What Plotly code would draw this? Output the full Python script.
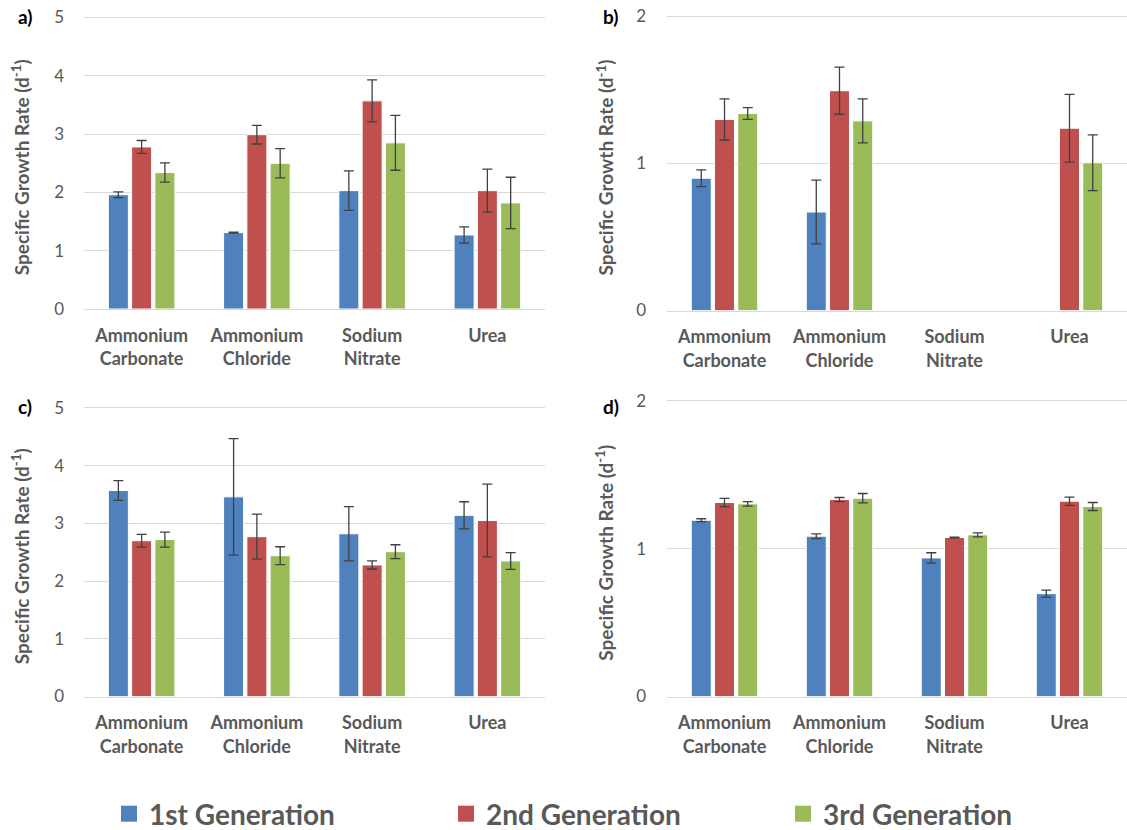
import plotly.graph_objects as go

W, H = 1127, 830

categories = ["Ammonium<br>Carbonate", "Ammonium<br>Chloride", "Sodium<br>Nitrate", "Urea"]
series_names = ["1st Generation", "2nd Generation", "3rd Generation"]

# Panel a
a_gen1 = [1.96, 1.31, 2.03, 1.27]
a_gen1_err = [0.05, 0.01, 0.34, 0.14]
a_gen2 = [2.78, 2.99, 3.57, 2.03]
a_gen2_err = [0.11, 0.16, 0.36, 0.37]
a_gen3 = [2.34, 2.50, 2.85, 1.82]
a_gen3_err = [0.165, 0.25, 0.47, 0.44]

# Panel b
b_gen1 = [0.90, 0.67, None, None]
b_gen1_err = [0.057, 0.217, None, None]
b_gen2 = [1.30, 1.495, None, 1.24]
b_gen2_err = [0.14, 0.16, None, 0.23]
b_gen3 = [1.34, 1.29, None, 1.005]
b_gen3_err = [0.04, 0.15, None, 0.19]

# Panel c
c_gen1 = [3.57, 3.46, 2.82, 3.14]
c_gen1_err = [0.17, 1.01, 0.47, 0.235]
c_gen2 = [2.70, 2.77, 2.28, 3.05]
c_gen2_err = [0.11, 0.39, 0.07, 0.63]
c_gen3 = [2.72, 2.44, 2.51, 2.35]
c_gen3_err = [0.13, 0.155, 0.12, 0.145]

# Panel d
d_gen1 = [1.193, 1.085, 0.938, 0.696]
d_gen1_err = [0.010, 0.016, 0.035, 0.024]
d_gen2 = [1.313, 1.333, 1.076, 1.322]
d_gen2_err = [0.028, 0.014, 0.003, 0.028]
d_gen3 = [1.304, 1.342, 1.094, 1.286]
d_gen3_err = [0.015, 0.032, 0.014, 0.027]

y_ticks_ac = [0, 1, 2, 3, 4, 5]
y_ticks_bd = [0, 1, 2]
panel_labels = ["a)", "b)", "c)", "d)"]
y_title = "Specific Growth Rate (d<sup>-1</sup>)"

colors = ["#4F81BD", "#C0504D", "#9BBB59"]
GRID = "#D9D9D9"
TXT = "#595959"
FONT = "Lato"

panels = [
    dict(data=[(a_gen1, a_gen1_err), (a_gen2, a_gen2_err), (a_gen3, a_gen3_err)],
         ticks=y_ticks_ac, px=(84, 545), py=(17.5, 309), label_xy=(16, 17), title_x=20),
    dict(data=[(b_gen1, b_gen1_err), (b_gen2, b_gen2_err), (b_gen3, b_gen3_err)],
         ticks=y_ticks_bd, px=(667, 1127), py=(16.5, 310.5), label_xy=(601, 17), title_x=605),
    dict(data=[(c_gen1, c_gen1_err), (c_gen2, c_gen2_err), (c_gen3, c_gen3_err)],
         ticks=y_ticks_ac, px=(84, 545), py=(408, 696.5), label_xy=(16, 407), title_x=20),
    dict(data=[(d_gen1, d_gen1_err), (d_gen2, d_gen2_err), (d_gen3, d_gen3_err)],
         ticks=y_ticks_bd, px=(667, 1127), py=(401, 696.5), label_xy=(601, 407), title_x=605),
]

fig = go.Figure()
layout = dict(
    width=W, height=H,
    margin=dict(l=0, r=0, t=0, b=0, autoexpand=False),
    paper_bgcolor="white", plot_bgcolor="white",
    barmode="group", bargap=0.394, bargroupgap=0.14,
    font=dict(family=FONT, color=TXT),
    showlegend=True,
)
annotations = []

for i, p in enumerate(panels):
    n = i + 1
    xa = "x" if n == 1 else f"x{n}"
    ya = "y" if n == 1 else f"y{n}"
    for k, (vals, errs) in enumerate(p["data"]):
        fig.add_trace(go.Bar(
            x=categories, y=vals, xaxis=xa, yaxis=ya,
            name=series_names[k], showlegend=False,
            marker=dict(color=colors[k], line=dict(color="white", width=1)),
            error_y=dict(type="data", array=errs, visible=True,
                         color="#404040", thickness=1.3, width=5),
        ))
    x0, x1 = p["px"]
    y0, y1 = p["py"]
    top = p["ticks"][-1]
    ext = top * 0.004
    layout[f"xaxis{'' if n == 1 else n}"] = dict(
        domain=[x0 / W, x1 / W], anchor=ya, type="category",
        range=[-0.5, 3.5], showgrid=False, showline=True, linecolor=GRID,
        linewidth=1, ticks="", tickfont=dict(family=FONT, size=18, color=TXT,
                                               weight="bold"),
        ticklabelstandoff=10, zeroline=False,
    )
    layout[f"yaxis{'' if n == 1 else n}"] = dict(
        domain=[1 - y1 / H, 1 - (y0 - (y1 - y0) * ext / top) / H], anchor=xa,
        range=[0, top + ext], tickvals=p["ticks"],
        showgrid=True, gridcolor=GRID, gridwidth=1, zeroline=False,
        showline=False, ticks="",
        tickfont=dict(family=FONT, size=17, color=TXT),
        ticklabelstandoff=19 if n in (1, 3) else 20,
    )
    lx, ly = p["label_xy"]
    annotations.append(dict(
        text=f"<b>{panel_labels[i]}</b>", x=lx / W, y=1 - ly / H,
        xref="paper", yref="paper", xanchor="left", yanchor="middle",
        showarrow=False, font=dict(family=FONT, size=19, color="black"),
    ))
    annotations.append(dict(
        text=f"<b>{y_title}</b>", x=p["title_x"] / W, y=1 - ((y0 + y1) / 2 + 4) / H,
        xref="paper", yref="paper", xanchor="center", yanchor="middle",
        textangle=-90, showarrow=False,
        font=dict(family=FONT, size=19, color=TXT),
    ))

# legend entries
for k in range(3):
    fig.add_trace(go.Scatter(
        x=[None], y=[None], mode="markers", name=series_names[k],
        marker=dict(symbol="square", size=16, color=colors[k]),
        showlegend=True,
    ))

layout["annotations"] = annotations
layout["legend"] = dict(
    orientation="h", x=109 / W, y=1 - 814 / H, xanchor="left", yanchor="middle",
    font=dict(family=FONT, size=28, color=TXT, weight="bold"),
    entrywidth=292, entrywidthmode="pixels", itemclick=False,
    bgcolor="rgba(0,0,0,0)",
)
fig.update_layout(**layout)
fig.write_html(
    "out.html",
    config={"displayModeBar": False},
    post_script="document.body.style.margin='0px';document.body.style.overflow='hidden';",
)
